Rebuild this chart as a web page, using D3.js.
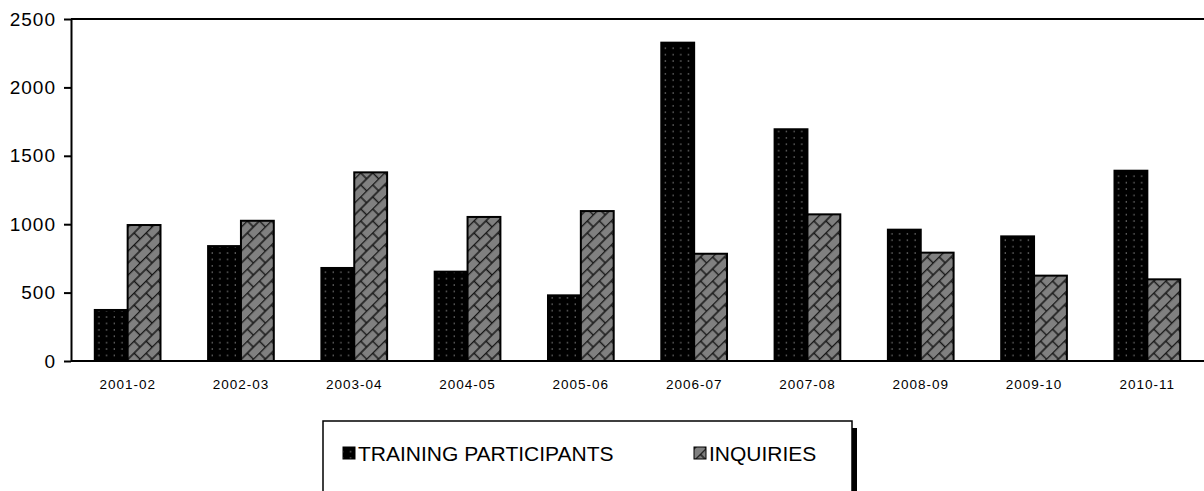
<!DOCTYPE html>
<html>
<head>
<meta charset="utf-8">
<script src="https://cdn.jsdelivr.net/npm/d3@7"></script>
<style>
body { margin: 0; background: #fff; }
</style>
</head>
<body>
<svg></svg>
<script>
// data
var years = ["2001-02", "2002-03", "2003-04", "2004-05", "2005-06", "2006-07", "2007-08", "2008-09", "2009-10", "2010-11"];
var participants = [373, 840, 680, 653, 480, 2327, 1694, 960, 911, 1391];
var inquiries = [994, 1025, 1379, 1053, 1096, 784, 1072, 792, 624, 597];
var seriesNames = ["TRAINING PARTICIPANTS", "INQUIRIES"];
var yTicks = [0, 500, 1000, 1500, 2000, 2500];

var svg = d3.select("svg")
    .attr("width", 1204)
    .attr("height", 491)
var marginLeft = 71, marginTop = 19,
width = 1133, height = 342

var defs = svg.append("defs");

// black with grey dots
var dots = defs.append("pattern")
    .attr("id", "dots")
    .attr("patternUnits", "userSpaceOnUse")
    .attr("width", 7.7)
    .attr("height", 6.4);
dots.append("rect").attr("width", 7.7).attr("height", 6.4).style("fill", "#000");
dots.append("rect").attr("x", 3.5).attr("y", 3).attr("width", 1.3).attr("height", 1.3).style("fill", "#808080");

// grey diagonal brick
var brick = defs.append("pattern")
    .attr("id", "brick")
    .attr("patternUnits", "userSpaceOnUse")
    .attr("width", 17)
    .attr("height", 17)
    .attr("patternTransform", "rotate(-45)");
brick.append("rect").attr("width", 17).attr("height", 17).style("fill", "#808080");
brick.append("path")
    .attr("d", "M0,0.5H17M0,9H17M4,0.5V9M12.5,9V17.5")
    .style("fill", "none")
    .style("stroke", "#151515")
    .style("stroke-width", 1.4);

var xScale = d3.scaleBand().domain(years).range([0, width]).paddingInner(0.42).paddingOuter(0.21),
yScale = d3.scaleLinear().domain([0, 2500]).range([height, 0]);
var xSub = d3.scaleBand().domain([0, 1]).range([0, xScale.bandwidth()]);

var g = svg.append("g")
    .attr("transform", "translate(" + marginLeft + "," + marginTop + ")");

// top border
g.append("line")
    .attr("x1", 0).attr("x2", width)
    .attr("y1", 0).attr("y2", 0)
    .style("stroke", "#000")
    .style("stroke-width", 2);

var groups = g.selectAll(".grp")
    .data(years)
    .enter()
    .append("g")
    .attr("class", "grp")
    .attr("transform", function (d) { return "translate(" + xScale(d) + ",0)"; });

groups.append("rect")
    .attr("x", xSub(0))
    .attr("y", function (d, i) { return yScale(participants[i]); })
    .attr("width", xSub.bandwidth())
    .attr("height", function (d, i) { return height - yScale(participants[i]); })
    .style("fill", "url(#dots)")
    .style("stroke", "#000")
    .style("stroke-width", 2);

groups.append("rect")
    .attr("x", xSub(1))
    .attr("y", function (d, i) { return yScale(inquiries[i]); })
    .attr("width", xSub.bandwidth())
    .attr("height", function (d, i) { return height - yScale(inquiries[i]); })
    .style("fill", "url(#brick)")
    .style("stroke", "#000")
    .style("stroke-width", 2);

// x axis
var xAxis = g.append("g")
    .attr("transform", "translate(0," + height + ")")
    .call(d3.axisBottom(xScale).tickSize(0).tickPadding(18));
xAxis.select(".domain").style("stroke-width", 2).attr("d", "M0,0H" + width);
xAxis.selectAll("text")
    .style("font-family", "Liberation Sans, Arial, sans-serif")
    .style("font-size", "13.5px")
    .style("letter-spacing", "1px")
    .style("fill", "#000");

// y axis
var yAxis = g.append("g")
    .call(d3.axisLeft(yScale).tickValues(yTicks).tickFormat(d3.format("d")).tickSize(7).tickSizeOuter(0).tickPadding(8));
yAxis.select(".domain").style("stroke-width", 2);
yAxis.selectAll("line").style("stroke-width", 2);
yAxis.selectAll("text")
    .style("font-family", "Liberation Sans, Arial, sans-serif")
    .style("font-size", "19px")
    .style("letter-spacing", "1px")
    .style("fill", "#000");

// legend
var legend = svg.append("g");
legend.append("rect")
    .attr("x", 852).attr("y", 428)
    .attr("width", 5).attr("height", 70)
    .style("fill", "#000");
legend.append("rect")
    .attr("x", 323).attr("y", 421)
    .attr("width", 529).attr("height", 80)
    .style("fill", "#fff")
    .style("stroke", "#000")
    .style("stroke-width", 1.5);

var legX = [343, 694];
var legFill = ["url(#dots)", "url(#brick)"];
seriesNames.forEach(function (name, i) {
    legend.append("rect")
        .attr("x", legX[i]).attr("y", 447)
        .attr("width", 12).attr("height", 12)
        .style("fill", legFill[i])
        .style("stroke", "#000")
        .style("stroke-width", 1);
    legend.append("text")
        .attr("x", legX[i] + 15)
        .attr("y", 461)
        .style("font-family", "Liberation Sans, Arial, sans-serif")
        .style("font-size", "21px")
        .text(name);
});
</script>
</body>
</html>
